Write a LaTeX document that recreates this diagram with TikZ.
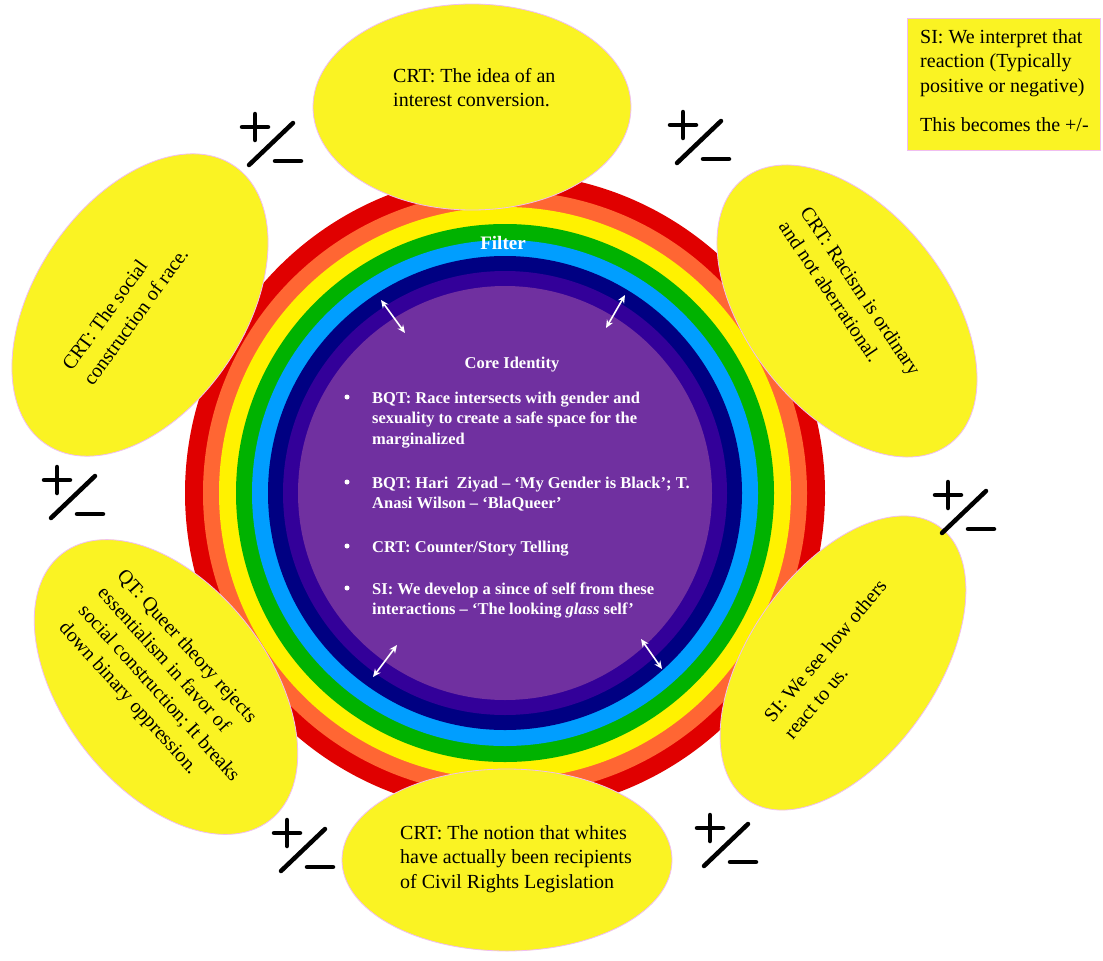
\documentclass[tikz,border=0pt]{standalone}
\usepackage{fontspec}
\setmainfont{Liberation Serif}
\usetikzlibrary{shapes.geometric,arrows.meta}

\definecolor{ringred}{RGB}{224,0,0}
\definecolor{ringorange}{RGB}{255,102,51}
\definecolor{ringyellow}{RGB}{255,242,0}
\definecolor{ringgreen}{RGB}{0,178,0}
\definecolor{ringblue}{RGB}{0,158,255}
\definecolor{ringnavy}{RGB}{0,0,130}
\definecolor{ringindigo}{RGB}{51,0,153}
\definecolor{corepurple}{RGB}{112,48,160}
\definecolor{bubble}{RGB}{250,243,35}
\definecolor{bubbleedge}{RGB}{240,190,240}

% lines block whose baseline is the baseline of its first line
\newcommand\tlines[1]{\vtop{\halign{##\hfil\cr#1\crcr}}}

\begin{document}
\begin{tikzpicture}[x=1pt,y=-1pt,
  bubblestyle/.style={ellipse, fill=bubble, draw=bubbleedge, line width=0.8pt, inner sep=0pt},
  btext/.style={font=\fontsize{20}{26}\selectfont, align=left, inner sep=0pt, text=black},
  ftext/.style={font=\fontsize{20}{24.5}\selectfont, inner sep=0pt, text=black, anchor=base west},
  coretext/.style={font=\bfseries\fontsize{16.5}{20.6}\selectfont, inner sep=0pt, text=white, anchor=base west},
  dot/.style={circle, fill=white, inner sep=0pt, minimum size=5pt},
  pmline/.style={line width=4.5pt, line cap=round, black},
  dblarrow/.style={white, line width=1.6pt, {Stealth[length=8pt,width=7pt]}-{Stealth[length=8pt,width=7pt]}},
  plusminus/.pic={
    \draw[pmline] (-13,0) -- (13,0);
    \draw[pmline] (0,-13) -- (0,13);
    \draw[pmline] (-6,38) -- (38,-4);
    \draw[pmline] (20,34) -- (46,34);
  }
]
\useasboundingbox (0,0) rectangle (1103,961);
\fill[white] (0,0) rectangle (1103,961);

% rings
\coordinate (c) at (505,493);
\fill[ringred]    (c) circle (320pt);
\fill[ringorange] (c) circle (302pt);
\fill[ringyellow] (c) circle (286pt);
\fill[ringgreen]  (c) circle (269pt);
\fill[ringblue]   (c) circle (253pt);
\fill[ringnavy]   (c) circle (237pt);
\fill[ringindigo] (c) circle (222pt);
\fill[corepurple] (c) circle (207pt);

\node[font=\bfseries\fontsize{19}{22}\selectfont, text=white, inner sep=0pt] (filter) at (503,243) {Filter};

% core text
\node[font=\bfseries\fontsize{16.5}{20}\selectfont, text=white, inner sep=0pt, anchor=base] (coretitle) at (512,368) {Core Identity};
\node[coretext] (b1) at (372,403) {\tlines{BQT: Race intersects with gender and\cr sexuality to create a safe space for the\cr marginalized}};
\node[coretext] (b2) at (372,488) {\tlines{BQT: Hari\ \ Ziyad -- `My Gender is Black'; T.\cr Anasi Wilson -- `BlaQueer'}};
\node[coretext] (b3) at (372,552) {CRT: Counter/Story Telling};
\node[coretext] (b4) at (372,594) {\tlines{SI: We develop a since of self from these\cr interactions -- `The looking \textit{glass} self'}};
\node[dot] (d1) at (347,397) {};
\node[dot] (d2) at (347,482) {};
\node[dot] (d3) at (347,546) {};
\node[dot] (d4) at (347,588) {};

% double arrows
\coordinate (a1s) at (381,300); \coordinate (a1e) at (405,333);
\coordinate (a2s) at (625,295); \coordinate (a2e) at (606,328);
\coordinate (a3s) at (397,645); \coordinate (a3e) at (373,677);
\coordinate (a4s) at (641,639); \coordinate (a4e) at (662,669);
\draw[dblarrow] (a1s) -- (a1e);
\draw[dblarrow] (a2s) -- (a2e);
\draw[dblarrow] (a3s) -- (a3e);
\draw[dblarrow] (a4s) -- (a4e);

% bubbles
\node[bubblestyle, minimum width=318pt, minimum height=206pt] (etop) at (472,107) {};
\node[bubblestyle, minimum width=336pt, minimum height=210pt, rotate=56] (etl) at (140,305) {};
\node[bubblestyle, minimum width=336pt, minimum height=200pt, rotate=-52] (etr) at (847,311) {};
\node[bubblestyle, minimum width=334pt, minimum height=188pt, rotate=55] (er) at (843,663) {};
\node[bubblestyle, minimum width=338pt, minimum height=205pt, rotate=-52] (ebl) at (166,687) {};
\node[bubblestyle, minimum width=330pt, minimum height=182pt] (ebot) at (507,860) {};

\node[ftext] (ttop) at (393,82) {\tlines{CRT: The idea of an\cr interest conversion.}};
\node[btext, rotate=54] (ttl) at (125,309) {CRT: The social\\construction of race.};
\node[btext, rotate=-56] (ttr) at (850,298) {CRT: Racism is ordinary\\and not aberrational.};
\node[btext, rotate=50] (tr) at (835,659) {SI: We see how others\\react to us.};
\node[btext, rotate=-48] (tbl) at (168,685) {QT: Queer theory rejects\\essentialism in favor of\\social construction; It breaks\\down binary oppression.};
\node[ftext] (tbot) at (400,839) {\tlines{CRT: The notion that whites\cr have actually been recipients\cr of Civil Rights Legislation}};

% SI box
\node[fill=bubble, draw=bubbleedge, line width=0.8pt, minimum width=193pt, minimum height=132pt, anchor=north west, inner sep=0pt] (sibox) at (907,18) {};
\node[ftext] (sitext) at (920,43.5) {\tlines{SI: We interpret that\cr reaction (Typically\cr positive or negative)\cr\noalign{\vskip14.5pt}This becomes the +/-}};

% plus/minus symbols
\pic at (255,127) {plusminus};
\pic at (683,125) {plusminus};
\pic at (57,480) {plusminus};
\pic at (948,495) {plusminus};
\pic at (287,833) {plusminus};
\pic at (710,828) {plusminus};
\end{tikzpicture}
\end{document}
